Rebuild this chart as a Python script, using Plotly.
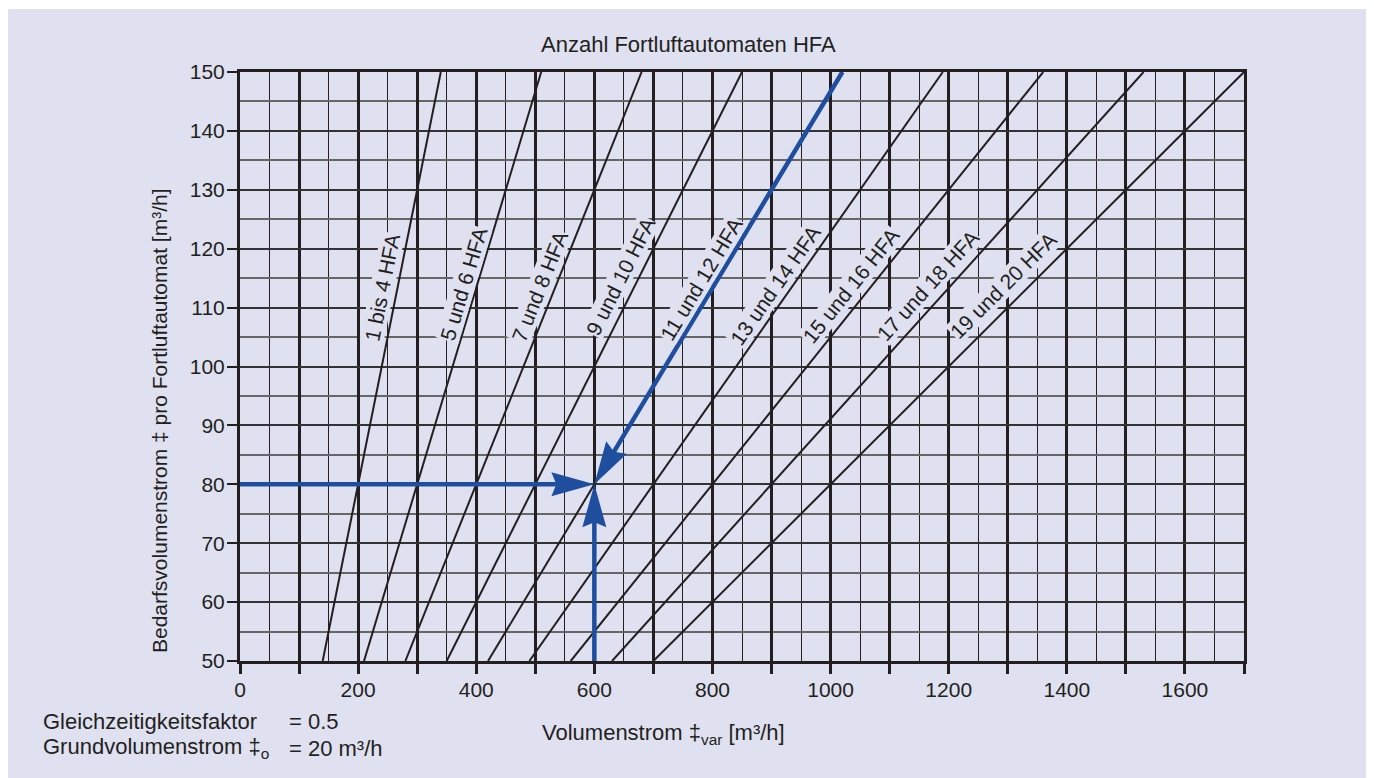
import math
import plotly.graph_objects as go

# ---------------- data ----------------
hfa_labels = ["1 bis 4 HFA", "5 und 6 HFA", "7 und 8 HFA", "9 und 10 HFA",
              "11 und 12 HFA", "13 und 14 HFA", "15 und 16 HFA",
              "17 und 18 HFA", "19 und 20 HFA"]
line_y_bottom = 50
line_y_top = 150
x_at_bottom = [140, 210, 280, 350, 420, 490, 560, 630, 700]
x_at_top = [340, 510, 680, 850, 1020, 1190, 1360, 1530, 1700]
label_x = [242, 378, 508, 645, 782, 906, 1035, 1165, 1292]
label_y = [113.5, 114, 113.5, 115.2, 114.9, 113.8, 113.7, 113.7, 113.8]

arrow_h_x = [0, 600]
arrow_h_y = [80, 80]
arrow_v_x = [600, 600]
arrow_v_y = [50, 80]
arrow_d_x = [1020, 600]
arrow_d_y = [150, 80]

x_tick_vals = [0, 100, 200, 300, 400, 500, 600, 700, 800, 900, 1000,
               1100, 1200, 1300, 1400, 1500, 1600, 1700]
x_tick_text = ["0", "", "200", "", "400", "", "600", "", "800", "", "1000",
               "", "1200", "", "1400", "", "1600", ""]

title_text = "Anzahl Fortluftautomaten HFA"
x_title = "Volumenstrom ‡<sub>var</sub> [m³/h]"
y_title = "Bedarfsvolumenstrom ‡ pro Fortluftautomat [m³/h]"
note_labels = ["Gleichzeitigkeitsfaktor", "Grundvolumenstrom ‡<sub>o</sub>"]
note_values = ["= 0.5", "= 20 m³/h"]

# ---------------- style ----------------
OFF = 8  # page body margin
W, H = 1374 - OFF, 778 - OFF
ML, MT = 240 - OFF, 72 - OFF
MR = W - (1244 - OFF)
MB = H - (661 - OFF)
XR = [0, 1700]
YR = [50, 150]
BG = "#DFE1F0"
INK = "#231F20"
BLUE = "#1F4E9F"
FONT = "Liberation Sans, Arial, Helvetica, sans-serif"
FS = 21
FS_T = 22

sx = (W - ML - MR) / (XR[1] - XR[0])
sy = (H - MT - MB) / (YR[1] - YR[0])

fig = go.Figure()

for x0, x1 in zip(x_at_bottom, x_at_top):
    fig.add_trace(go.Scatter(x=[x0, x1], y=[line_y_bottom, line_y_top], mode="lines",
                             line=dict(color=INK, width=2), hoverinfo="skip",
                             showlegend=False))


def arrow_path(theta, L=43, Wd=24, N=5):
    pts = [(0, 0), (-L, Wd / 2), (-L + N, 0), (-L, -Wd / 2)]
    c, s = math.cos(theta), math.sin(theta)
    rp = [(x * c - y * s, x * s + y * c) for x, y in pts]
    return "M" + " L".join(f"{x:.2f},{y:.2f}" for x, y in rp) + " Z"


shapes = []
for xs, ys in [(arrow_h_x, arrow_h_y), (arrow_v_x, arrow_v_y), (arrow_d_x, arrow_d_y)]:
    dxp = (xs[1] - xs[0]) * sx
    dyp = (ys[1] - ys[0]) * sy
    theta = math.atan2(dyp, dxp)
    plen = math.hypot(dxp, dyp)
    back = 36.0
    f = max(0.0, (plen - back) / plen)
    xe = xs[0] + (xs[1] - xs[0]) * f
    ye = ys[0] + (ys[1] - ys[0]) * f
    fig.add_trace(go.Scatter(x=[xs[0], xe], y=[ys[0], ye], mode="lines",
                             line=dict(color=BLUE, width=4.5), hoverinfo="skip",
                             showlegend=False))
    shapes.append(dict(type="path", xref="x", yref="y", xsizemode="pixel",
                       ysizemode="pixel", xanchor=xs[1], yanchor=ys[1],
                       path=arrow_path(theta), fillcolor=BLUE,
                       line=dict(width=0), layer="above"))


# positions given in reference-page pixels
def px_to_paper_x(p):
    return (p - OFF - ML) / (W - ML - MR)


def px_to_paper_y(p):
    return (H - MB - (p - OFF)) / (H - MT - MB)


# white strips at the page edges
shapes.append(dict(type="rect", xref="paper", yref="paper",
                   x0=px_to_paper_x(1369), x1=px_to_paper_x(1380),
                   y0=px_to_paper_y(790), y1=px_to_paper_y(-5),
                   fillcolor="white", line=dict(width=0), layer="below"))
shapes.append(dict(type="rect", xref="paper", yref="paper",
                   x0=px_to_paper_x(0), x1=px_to_paper_x(1380),
                   y0=px_to_paper_y(9), y1=px_to_paper_y(-5),
                   fillcolor="white", line=dict(width=0), layer="below"))

annotations = []
for txt, lx, ly, x0, x1 in zip(hfa_labels, label_x, label_y, x_at_bottom, x_at_top):
    ang = math.degrees(math.atan2((line_y_top - line_y_bottom) * sy, (x1 - x0) * sx))
    annotations.append(dict(x=lx, y=ly, xref="x", yref="y", text=txt, showarrow=False,
                            textangle=-ang, bgcolor=BG, borderpad=0,
                            font=dict(family=FONT, size=FS, color=INK)))

annotations.append(dict(x=px_to_paper_x(688), y=px_to_paper_y(44), xref="paper", yref="paper",
                        text=title_text, showarrow=False, xanchor="center", yanchor="middle",
                        font=dict(family=FONT, size=FS_T, color=INK)))
annotations.append(dict(x=px_to_paper_x(663), y=px_to_paper_y(734), xref="paper", yref="paper",
                        text=x_title, showarrow=False, xanchor="center", yanchor="middle",
                        font=dict(family=FONT, size=FS_T, color=INK)))
annotations.append(dict(x=px_to_paper_x(160), y=px_to_paper_y(421), xref="paper", yref="paper",
                        text=y_title, showarrow=False, xanchor="center", yanchor="middle",
                        textangle=-90, font=dict(family=FONT, size=FS, color=INK)))
for i, (lab, val) in enumerate(zip(note_labels, note_values)):
    yy = px_to_paper_y(721 + 27 * i)
    annotations.append(dict(x=px_to_paper_x(41), y=yy, xref="paper", yref="paper",
                            text=lab, showarrow=False, xanchor="left", yanchor="middle",
                            font=dict(family=FONT, size=FS_T, color=INK)))
    annotations.append(dict(x=px_to_paper_x(287), y=yy, xref="paper", yref="paper",
                            text=val, showarrow=False, xanchor="left", yanchor="middle",
                            font=dict(family=FONT, size=FS_T, color=INK)))

fig.update_layout(
    width=W, height=H,
    margin=dict(l=ML, r=MR, t=MT, b=MB, pad=0),
    paper_bgcolor=BG, plot_bgcolor=BG,
    showlegend=False,
    font=dict(family=FONT, size=FS, color=INK),
    shapes=shapes,
    annotations=annotations,
    xaxis=dict(range=XR, tickmode="array", tickvals=x_tick_vals, ticktext=x_tick_text,
               showgrid=True, gridcolor=INK, gridwidth=3.2,
               ticks="outside", ticklen=10, tickwidth=3, tickcolor=INK,
               showline=True, linecolor=INK, linewidth=3, mirror=True,
               zeroline=False, ticklabelstandoff=-2,
               tickfont=dict(family=FONT, size=FS, color=INK),
               minor=dict(tick0=0, dtick=50, showgrid=True, gridcolor=INK, gridwidth=1.4,
                          ticks="")),
    yaxis=dict(range=YR, dtick=10, tick0=50,
               showgrid=True, gridcolor="#333333", gridwidth=2,
               ticks="outside", ticklen=10, tickwidth=2.2, tickcolor=INK,
               showline=True, linecolor=INK, linewidth=3, mirror=True,
               zeroline=False, ticklabelstandoff=-2,
               tickfont=dict(family=FONT, size=FS, color=INK),
               minor=dict(tick0=50, dtick=5, showgrid=True, gridcolor="#666666", gridwidth=1.6,
                          ticks="")),
)

fig.write_html("out.html")
